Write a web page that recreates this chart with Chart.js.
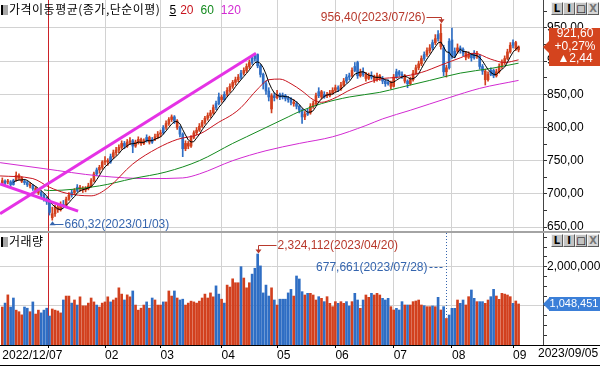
<!DOCTYPE html>
<html>
<head>
<meta charset="utf-8">
<script src="https://cdn.jsdelivr.net/npm/chart.js@4.4.1/dist/chart.umd.min.js"></script>
<style>
  body { margin: 0; background: #fff; }
  #wrap { position: relative; width: 600px; height: 366px; overflow: hidden; background: #fff; }
  canvas { position: absolute; left: 0; }
  #priceChart { top: 0; }
  #volChart { top: 233px; }
  .sep { position: absolute; left: 0; top: 231px; width: 600px; height: 2px; background: #a4a4a4; }
  .title { position: absolute; left: 1px; font: 12px/15px "Noto Sans CJK KR", sans-serif; letter-spacing: 0.5px; color: #000; white-space: nowrap; }
  .title .num { font: 12px/15px "Liberation Sans", sans-serif; letter-spacing: 0; }
  .icon { display: inline-block; width: 2px; height: 10px; background: #000; border-right: 5px solid #a8a8a8; margin-right: 1px; vertical-align: -1px; }
  .btns { position: absolute; left: 551px; height: 13px; }
  .btn { float: left; width: 10px; height: 11px; background: #c4c4c4; border: 1px solid; border-color: #f4f4f4 #5a5a5a #5a5a5a #f4f4f4; font: bold 10px/11px "DejaVu Sans", sans-serif; text-align: center; color: #000; letter-spacing: 0; }
  .btn.off { background: #d6d6d6; color: #777; }
</style>
</head>
<body>
<div id="wrap">
  <canvas id="priceChart" width="600" height="231"></canvas>
  <div class="sep"></div>
  <canvas id="volChart" width="600" height="133"></canvas>
  <div class="title" style="top:1px"><span class="icon"></span>가격이동평균(종가,단순이평)<span class="num" style="margin-left:9px"><u>5</u></span><span class="num" style="margin-left:4px;color:#c8141e">20</span><span class="num" style="margin-left:7px;color:#138a1e">60</span><span class="num" style="margin-left:7px;color:#d22ad2">120</span></div>
  <div class="title" style="top:233px"><span class="icon"></span>거래량</div>
  <div class="btns" style="top:2px"><div class="btn">L</div><div class="btn">I</div><div class="btn">□</div><div class="btn off">X</div></div>
  <div class="btns" style="top:234px"><div class="btn">L</div><div class="btn">I</div><div class="btn">□</div><div class="btn off">X</div></div>
</div>
<script>
// daily candles, 2022/12/07 .. 2023/09/05 (index = trading day)
const opens = [
  720,716,719,718,714,720,728,724,719,717, 714,712,708,705,702,698,692,690,664,670,
  680,676,684,682,692,698,702,705,710,708, 706,708,712,720,730,736,740,748,750,748,
  756,762,766,770,776,772,778,780,772,778, 782,776,780,785,778,782,786,790,792,800,
  806,812,816,810,800,790,768,776,772,785, 792,796,802,808,814,818,822,830,836,846,
  842,850,856,862,868,872,876,882,886,892, 898,904,910,893,880,866,855,828,848,845,
  850,846,848,844,842,838,836,832,826,816, 820,822,832,836,848,854,846,850,848,852,
  856,860,858,864,870,876,878,886,898,878, 884,880,874,878,876,872,878,874,870,866,
  868,862,876,884,880,878,870,866,872,882, 890,896,904,910,916,920,928,934,942,920,
  884,890,932,908,915,920,918,912,906,910, 905,912,908,892,885,872,880,886,878,884,
  892,898,904,914,924,928,917
];
const highs = [
  724,721,722,720,722,733,730,726,722,719, 717,714,711,708,704,700,695,692,680,683,
  684,688,690,695,702,706,708,714,713,711, 711,716,723,733,739,743,750,756,753,760,
  766,770,774,780,779,782,785,782,781,786, 784,783,789,787,785,790,794,796,803,810,
  815,819,818,812,802,792,780,779,788,795, 800,806,811,817,822,826,834,840,852,849,
  854,860,866,871,876,880,886,890,896,902, 908,912,911,895,882,870,860,851,852,856,
  852,852,850,847,845,842,839,834,828,824, 828,836,840,852,860,856,854,853,856,860,
  864,863,868,874,880,882,890,898,900,888, 890,883,882,884,879,882,880,877,872,872,
  870,880,888,886,884,880,872,876,886,894, 900,908,914,920,925,932,940,946,956.4,924,
  894,934,950,920,926,923,920,915,914,912, 916,915,910,895,888,884,890,888,888,896,
  902,908,918,928,932,930,923
];
const lows = [
  714,713,715,711,713,719,721,717,714,711, 709,705,702,699,695,689,684,668,660.32,666,
  672,674,679,681,690,695,699,703,704,702, 703,706,710,718,727,731,737,744,743,746,
  753,758,762,767,768,770,774,762,770,775, 773,774,778,775,776,780,783,786,790,797,
  803,809,806,797,786,756,765,768,770,783, 789,794,800,805,811,815,820,827,834,838,
  840,847,853,859,864,869,873,879,883,889, 895,900,890,876,858,850,840,822,840,843,
  842,843,840,838,834,832,828,822,806,812, 818,820,829,834,845,843,844,845,846,850,
  853,854,856,862,867,872,876,884,874,876, 877,870,872,873,868,870,871,866,862,864,
  858,861,874,877,874,867,860,864,870,880, 887,893,901,907,912,917,925,930,918,878,
  876,888,904,905,912,912,908,902,904,900, 903,904,888,880,864,870,878,875,876,882,
  889,895,902,912,920,916,914
];
const closes = [
  716,719,718,714,720,728,724,719,717,714, 712,708,705,702,698,692,688,672,670,680,
  676,684,682,692,698,702,705,710,708,706, 708,712,720,730,736,740,748,750,748,756,
  762,766,770,776,772,778,780,772,778,782, 776,780,785,778,782,786,790,792,800,806,
  812,816,810,800,790,768,776,772,785,792, 796,802,808,814,818,822,830,836,846,842,
  850,856,862,868,872,876,882,886,892,898, 904,908,893,880,866,855,846,848,845,850,
  846,848,844,842,838,836,832,826,816,820, 822,832,836,848,854,846,850,848,852,856,
  860,858,864,870,876,878,886,892,878,884, 880,874,878,876,872,878,874,870,866,868,
  862,876,884,880,878,870,866,872,882,890, 896,904,910,916,920,928,934,940,922,884,
  890,930,908,915,920,918,912,906,910,905, 912,908,892,885,872,880,886,878,884,892,
  898,904,914,924,928,919.16,921.6
];
// volume in thousands of shares
const vols = [
  970,1070,1280,970,1200,890,850,770,970,940, 850,1100,790,890,820,890,940,740,920,890,
  870,820,1150,1250,1250,1070,1150,1020,1230,1000, 1000,1070,1200,1100,1020,970,1070,1100,1230,1100,
  1150,1200,1460,1300,1150,1280,1230,1380,1020,890, 940,1020,1100,940,1200,1150,1020,1020,1100,1100,
  1380,1250,1380,1200,1150,1170,1020,1070,1120,1100, 1070,1120,1200,1300,1200,1330,1230,1510,1300,1170,
  1070,1530,1480,1690,1590,1590,2000,1710,1460,1590, 1810,1960,2324.112,2020,1330,1530,1250,1460,1150,1020,
  1170,1170,1170,1330,1420,1250,1762,1686,1362,1277, 1320,1320,1277,1149,1234,1192,1107,1234,1064,979,
  1107,1064,1107,1064,1107,996,1107,1320,1149,937, 1149,1277,1218,1320,1277,1320,1277,1192,1149,1192,
  979,894,937,894,1107,1022,1022,1022,1107,1124, 1149,1022,1005,979,979,996,979,1218,894,979,
  677.661,766,937,937,1149,1064,1149,1022,1234,1405, 1192,1107,1107,1107,1064,1149,1234,1422,1251,1166,
  1320,1300,1277,1234,1064,1124,1048.451
];
// bar colour of each day as seen on the chart: r = red (up), b = blue (down)
const dayColor =
  'rbrbbrrrbb' + 'rbrrbbbbrr' + 'rrbrrbrbrr' + 'rrrrbrrrrb' + 'rrrrbrrbrr' +
  'rrbrbrrrbr' + 'rrbrbbrrrr' + 'rrrrrrrbbr' + 'brrrrrbrrr' + 'bbbbbbbrbr' +
  'bbbbbrbbbr' + 'brrrbrbrrr' + 'rbrrbbrbbr' + 'brrbrrrbbb' + 'rrbbbrbrrr' +
  'rrbrrbrbrb' + 'rbbbrbbrrb' + 'brbbrrbbrr' + 'rrrrbrr';

// moving averages: [index, price]
const ma20 = [[-0.8,727],[11,723],[17,710],[23,701],[32,697],[38,709],[47,745],[56,769],[63,782],[71,790],
  [78,808],[83,820],[86,830],[92,858],[96,872],[100,873],[104,866],[108,855],[112,842],[115,838],
  [119,843],[126,858],[136,873],[143,876],[151,883],[158,894],[165,905],[170,912],[176,903],[181,898],[186,902]];
const ma60 = [[15,706],[17,705],[35,712],[47,723],[59,733],[71,750],[83,776],[88,786],[95,800],[103,816],
  [107,824],[115,836],[125,846],[136,853],[143,860],[154,871],[165,882],[176,889],[186,897]];
const ma120 = [[-0.8,747],[15,738],[35,727],[53,723],[65,724],[71,730],[83,750],[95,765],[107,776],[119,786],
  [131,803],[137,813],[147,826],[161,845],[172,859],[186,871]];

// user trend lines
const trendUp = [[-0.8,670],[91.4,912]];
const trendDown = [[-0.8,715],[27.3,674]];

// axis ticks
const xTicks = [[0,'2022/12/07'],[16.5,''],[37,'02'],[57,'03'],[79,'04'],[99,'05'],[120,'06'],[141,'07'],[162,'08'],[184,'09']];
const lastDate = '2023/09/05';
const yearBreak = 16.5;
const priceTicks = [650,700,750,800,850,900,950];
const priceMinor = [675,725,775,825,875,925,975];
const volTicks = [1000,2000];
const volMinor = [250,500,750,1250,1500,1750,2250,2500,2750];

// marked points
const peak = { idx: 158, date: '2023/07/26' };
const bottom = { idx: 18, date: '2023/01/03' };
const volPeak = { idx: 92, date: '2023/04/20' };
const volLow = { idx: 160, date: '2023/07/28' };
const lastChange = 2.44, lastPct = 0.27;

const RED = '#d2401e', BLUE = '#2f6ec4';
const ANN_RED = '#b8392c', ANN_BLUE = '#3565ae';
const F12 = '12px "Liberation Sans", "DejaVu Sans", sans-serif';
const X_MIN = -0.83, X_MAX = 194.8;

Chart.defaults.font.family = '"Liberation Sans", "DejaVu Sans", sans-serif';
Chart.defaults.font.size = 12;
Chart.defaults.color = '#000';

const fmtPrice = v => v.toFixed(2).replace('.', ',');
const fmtVol = v => Math.round(v * 1000).toLocaleString('en-US');
const toXY = arr => arr.map(p => ({ x: p[0], y: p[1] }));

function sma(n) {
  const out = [];
  for (let i = n - 1; i < closes.length; i++) {
    let s = 0;
    for (let k = i - n + 1; k <= i; k++) s += closes[k];
    out.push({ x: i, y: s / n });
  }
  return out;
}

const barColors = closes.map((c, i) => dayColor[i] === 'b' ? BLUE : RED);

function noPad(s) { s.paddingTop = 0; s.paddingBottom = 0; s.paddingLeft = 0; s.paddingRight = 0; }

function xScaleCfg(showLabels) {
  return {
    type: 'linear', min: X_MIN, max: X_MAX, offset: false,
    afterBuildTicks: s => { s.ticks = xTicks.map(t => ({ value: t[0] })); },
    afterFit: s => { s.height = showLabels ? 21 : 0; noPad(s); },
    ticks: {
      display: showLabels, autoSkip: false, maxRotation: 0, minRotation: 0, align: 'start', padding: 0,
      callback: (v) => { const t = xTicks.find(t => t[0] === v); return t ? t[1] : ''; }
    },
    grid: {
      offset: false, drawTicks: showLabels, tickLength: 3,
      color: c => (c.tick && (c.tick.value === 0 || c.tick.value === yearBreak)) ? 'rgba(0,0,0,0)' : '#d2d2d2',
      tickColor: c => (c.tick && c.tick.value === 0) ? 'rgba(0,0,0,0)' : '#000'
    },
    border: { display: showLabels, color: '#000' }
  };
}

function yScaleCfg(min, max, major, minor, fmt) {
  return {
    position: 'right', min: min, max: max,
    afterBuildTicks: s => { s.ticks = major.concat(minor).sort((a, b) => a - b).map(v => ({ value: v })); },
    afterFit: s => { s.width = 57; noPad(s); },
    ticks: { autoSkip: false, padding: 0, callback: v => major.includes(v) ? fmt(v) : '' },
    grid: {
      tickLength: 4, tickColor: '#333',
      color: c => (c.tick && major.includes(c.tick.value)) ? '#d2d2d2' : 'rgba(0,0,0,0)'
    },
    border: { color: '#444' }
  };
}

function drawYearLine(chart) {
  const { ctx, chartArea, scales: { x } } = chart;
  const px = Math.round(x.getPixelForValue(yearBreak)) + 0.5;
  ctx.save();
  ctx.strokeStyle = '#cc2228';
  ctx.lineWidth = 1;
  ctx.beginPath(); ctx.moveTo(px, chartArea.top); ctx.lineTo(px, chartArea.bottom); ctx.stroke();
  ctx.restore();
}

function arrowHead(ctx, x, y, dir) {
  ctx.beginPath();
  ctx.moveTo(x - 3, y - 4 * dir); ctx.lineTo(x + 3, y - 4 * dir); ctx.lineTo(x, y);
  ctx.closePath(); ctx.fill();
}

function valueBox(ctx, cy, half, color) {
  ctx.fillStyle = color;
  ctx.beginPath();
  ctx.moveTo(543, cy);
  ctx.lineTo(549, cy - 6); ctx.lineTo(549, cy - half); ctx.lineTo(600, cy - half);
  ctx.lineTo(600, cy + half); ctx.lineTo(549, cy + half); ctx.lineTo(549, cy + 6);
  ctx.closePath(); ctx.fill();
}

const pricePlugin = {
  id: 'priceMarks',
  beforeDatasetsDraw: drawYearLine,
  afterDraw(chart) {
    const { ctx, scales: { x, y } } = chart;
    ctx.save();
    ctx.font = F12; ctx.lineWidth = 1; ctx.textBaseline = 'middle';

    // highest price
    const hx = Math.round(x.getPixelForValue(peak.idx)) + 0.5;
    const hy = y.getPixelForValue(highs[peak.idx]);
    const ty = Math.round(hy - 7) + 0.5;
    ctx.fillStyle = ctx.strokeStyle = ANN_RED;
    ctx.textAlign = 'right';
    ctx.fillText(fmtPrice(highs[peak.idx]) + '(' + peak.date + ')', hx - 16, ty);
    ctx.beginPath(); ctx.moveTo(hx - 15, ty); ctx.lineTo(hx, ty); ctx.lineTo(hx, hy - 3); ctx.stroke();
    arrowHead(ctx, hx, hy - 0.5, 1);

    // lowest price
    const lx = Math.round(x.getPixelForValue(bottom.idx)) + 0.5;
    const ly = y.getPixelForValue(lows[bottom.idx]);
    const by = Math.round(ly + 4) + 0.5;
    ctx.fillStyle = ctx.strokeStyle = ANN_BLUE;
    ctx.beginPath(); ctx.moveTo(lx, ly + 3); ctx.lineTo(lx, by); ctx.lineTo(lx + 11, by); ctx.stroke();
    arrowHead(ctx, lx, ly + 1, -1);
    ctx.textAlign = 'left';
    ctx.fillText(fmtPrice(lows[bottom.idx]) + '(' + bottom.date + ')', lx + 12, by);

    // last price box
    const last = closes.length - 1;
    const cy = Math.round(y.getPixelForValue(closes[last]));
    valueBox(ctx, cy, 19, '#d4441e');
    ctx.fillStyle = '#fff'; ctx.textAlign = 'center';
    ctx.fillText(fmtPrice(closes[last]), 575, cy - 13);
    ctx.fillText('+' + fmtPrice(lastPct) + '%', 575, cy);
    ctx.fillText('▲' + fmtPrice(lastChange), 575, cy + 12);
    ctx.restore();
  }
};

const volPlugin = {
  id: 'volMarks',
  beforeDatasetsDraw: drawYearLine,
  afterDraw(chart) {
    const { ctx, chartArea, scales: { x, y } } = chart;
    ctx.save();
    ctx.font = F12; ctx.lineWidth = 1; ctx.textBaseline = 'middle';

    // largest volume
    const mx = Math.round(x.getPixelForValue(volPeak.idx)) + 0.5;
    const my = y.getPixelForValue(vols[volPeak.idx]);
    const ty = 12.5;
    ctx.fillStyle = ctx.strokeStyle = ANN_RED;
    ctx.beginPath(); ctx.moveTo(mx + 18, ty); ctx.lineTo(mx, ty); ctx.lineTo(mx, my - 3); ctx.stroke();
    arrowHead(ctx, mx, my - 0.5, 1);
    ctx.textAlign = 'left';
    ctx.fillText(fmtVol(vols[volPeak.idx]) + '(' + volPeak.date + ')', mx + 19, ty);

    // smallest volume
    const nx = Math.round(x.getPixelForValue(volLow.idx)) + 0.5;
    const ny = y.getPixelForValue(vols[volLow.idx]);
    const ty2 = 34.5;
    ctx.fillStyle = ctx.strokeStyle = ANN_BLUE;
    ctx.setLineDash([1, 2]);
    ctx.beginPath(); ctx.moveTo(nx, chartArea.top); ctx.lineTo(nx, ny - 1); ctx.stroke();
    ctx.setLineDash([3, 2]);
    ctx.beginPath(); ctx.moveTo(nx - 17, ty2); ctx.lineTo(nx - 2, ty2); ctx.stroke();
    ctx.setLineDash([]);
    ctx.textAlign = 'right';
    ctx.fillText(fmtVol(vols[volLow.idx]) + '(' + volLow.date + ')', nx - 19, ty2);

    // last volume box
    const last = vols.length - 1;
    const cy = Math.round(y.getPixelForValue(vols[last]));
    valueBox(ctx, cy, 7, '#3b7fd8');
    ctx.fillStyle = '#fff'; ctx.textAlign = 'center';
    ctx.font = '11px "Liberation Sans", "DejaVu Sans", sans-serif';
    ctx.fillText(fmtVol(vols[last]), 574, cy);

    // bottom frame and last date
    ctx.fillStyle = '#000';
    ctx.fillRect(0, chartArea.bottom, 600, 1);
    ctx.fillRect(0, chart.height - 1, 600, 1);
    ctx.font = F12; ctx.textAlign = 'left'; ctx.textBaseline = 'top';
    ctx.fillText(lastDate, 538, chartArea.bottom + 3);
    ctx.restore();
  }
};

const baseOptions = {
  responsive: false, animation: false, devicePixelRatio: 1, events: [],
  layout: { padding: 0, autoPadding: false },
  plugins: { legend: { display: false }, tooltip: { enabled: false } }
};

new Chart(document.getElementById('priceChart'), {
  type: 'bar',
  data: {
    datasets: [
      { type: 'line', data: toXY(trendUp), borderColor: '#e532e5', borderWidth: 3, pointRadius: 0, order: 0 },
      { type: 'line', data: toXY(trendDown), borderColor: '#e532e5', borderWidth: 3, pointRadius: 0, order: 0 },
      { type: 'line', data: sma(5), borderColor: '#000', borderWidth: 1, pointRadius: 0, order: 1 },
      { type: 'line', data: toXY(ma20), borderColor: '#c8141e', borderWidth: 1, pointRadius: 0, cubicInterpolationMode: 'monotone', order: 2 },
      { type: 'line', data: toXY(ma60), borderColor: '#138a1e', borderWidth: 1, pointRadius: 0, cubicInterpolationMode: 'monotone', order: 3 },
      { type: 'line', data: toXY(ma120), borderColor: '#d22ad2', borderWidth: 1, pointRadius: 0, cubicInterpolationMode: 'monotone', order: 4 },
      { data: closes.map((c, i) => ({ x: i, y: [opens[i], c] })), backgroundColor: barColors,
        barThickness: 2, minBarLength: 1, grouped: false, borderWidth: 0, order: 5 },
      { data: closes.map((c, i) => ({ x: i, y: [lows[i], highs[i]] })), backgroundColor: barColors,
        barThickness: 1, grouped: false, borderWidth: 0, order: 6 }
    ]
  },
  options: Object.assign({}, baseOptions, {
    scales: {
      x: xScaleCfg(false),
      y: yScaleCfg(644, 992.2, priceTicks, priceMinor, fmtPrice)
    }
  }),
  plugins: [pricePlugin]
});

new Chart(document.getElementById('volChart'), {
  type: 'bar',
  data: {
    datasets: [
      { data: vols.map((v, i) => ({ x: i, y: v })), backgroundColor: barColors,
        barThickness: 2, grouped: false, borderWidth: 0 }
    ]
  },
  options: Object.assign({}, baseOptions, {
    scales: {
      x: xScaleCfg(true),
      y: yScaleCfg(0, 2860, volTicks, volMinor, fmtVol)
    }
  }),
  plugins: [volPlugin]
});
</script>
</body>
</html>
